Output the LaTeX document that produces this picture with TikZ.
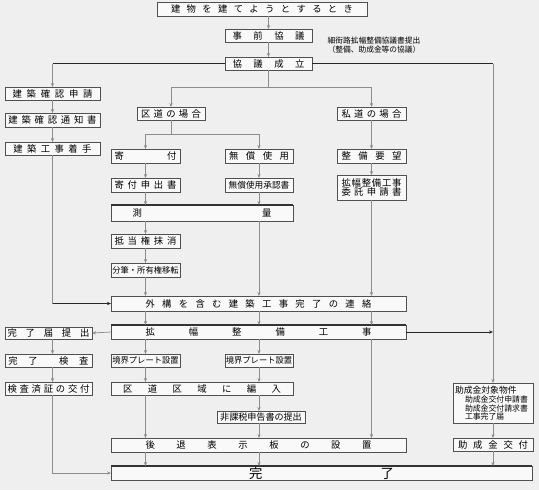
\documentclass[tikz,border=0pt]{standalone}
\usepackage{fontspec}
\setmainfont{Noto Sans CJK JP}
\usetikzlibrary{arrows.meta}
\definecolor{bg}{HTML}{EFEFEF}
\definecolor{boxfill}{HTML}{F9F9F9}
\definecolor{boxline}{HTML}{505050}
\definecolor{lnc}{HTML}{8C8C8C}
\newdimen\pxu \pxu=0.75pt
\makeatletter
\def\spr@loop#1{\ifx#1\@nil\else\hfill#1\expandafter\spr@loop\fi}
\def\spr@start#1{#1\spr@loop}
\newcommand\sprd[2]{\hbox to #1\pxu{\spr@start#2\@nil}}
\makeatother
\newcommand\bx[7][]{\node[box,minimum width={(#5-#3)*0.75pt},minimum height={(#6-#4)*0.75pt},#1] (#2) at ({(#3+#5)/2},{(#4+#6)/2}) {#7};}
\tikzset{
  box/.style={draw=boxline,fill=boxfill,line width=0.5pt,inner sep=0pt,outer sep=0pt,rectangle},
  lnk/.style={draw=lnc,line width=0.55pt},
  arr/.style={lnk,-{Stealth[length=3pt,width=2.4pt]}},
  blk/.style={draw=black!85,line width=0.65pt},
  blkarr/.style={blk,-{Stealth[length=3pt,width=2.4pt]}},
  topbar/.style={draw=black!80,line width=1pt},
  small/.style={font=\fontsize{6.2}{7}\selectfont}
}
\begin{document}
\begin{tikzpicture}[x=0.75pt,y=-0.75pt,font=\fontsize{7}{8}\selectfont]
\useasboundingbox[fill=bg] (0,0) rectangle (539,490);
% nodes
\bx{top}{157}{2}{367}{16}{\sprd{182}{建物を建てようとするとき}}
\bx{jizen}{225}{29}{312}{42}{\sprd{72}{事前協議}}
\node[font=\fontsize{5.8}{7}\selectfont,align=center] (note) at (374,45) {細街路拡幅整備協議書提出\\（整備、助成金等の協議）};
\bx{kyogi}{225}{57}{312}{70}{\sprd{72}{協議成立}}
\bx{kakunin}{5}{87}{100}{100}{\sprd{80}{建築確認申請}}
\bx{tsuchi}{5}{113}{100}{127}{\sprd{88}{建築確認通知書}}
\bx{chakushu}{5}{142}{100}{155}{\sprd{78}{建築工事着手}}
\bx{kudo}{137}{107}{205}{120}{\sprd{60}{区道の場合}}
\bx{shido}{337}{107}{406}{120}{\sprd{60}{私道の場合}}
\bx{kifu}{111}{149}{180}{163}{\sprd{62}{寄付}}
\bx{musho}{225}{149}{293}{163}{\sprd{60}{無償使用}}
\bx{seibi}{337}{149}{406}{163}{\sprd{60}{整備要望}}
\bx{kifumo}{111}{178}{180}{192}{\sprd{62}{寄付申出書}}
\bx{mushosho}{225}{178}{293}{192}{\fontsize{6.5}{7}\selectfont 無償使用承認書}
\bx[align=center]{itaku}{337}{175}{406}{200}{\sprd{60}{拡幅整備工事}\\[-1pt]\sprd{60}{委託申請書}}
\bx{sokuryo}{111}{205}{293}{221}{\sprd{139}{測量}}
\bx{teito}{111}{234}{180}{248}{\sprd{62}{抵当権抹消}}
\bx{bunpitsu}{111}{263}{180}{277}{\fontsize{6.2}{7}\selectfont 分筆・所有権移転}
\bx{gaiko}{111}{296}{406}{311}{\sprd{226}{外構を含む建築工事完了の連絡}}
\bx{kakufuku}{111}{325}{406}{339}{\sprd{226}{拡幅整備工事}}
\bx{todoke}{5}{327}{92}{339}{\sprd{82}{完了届提出}}
\bx{kensa}{5}{354}{92}{367}{\hbox to 80\pxu{完\hfill 了\hfill\hfill 検\hfill 査}}
\bx{kensazumi}{5}{382}{92}{395}{\sprd{82}{検査済証の交付}}
\bx{plate1}{111}{354}{180}{367}{\fontsize{6.2}{7}\selectfont 境界プレート設置}
\bx{plate2}{225}{354}{293}{367}{\fontsize{6.2}{7}\selectfont 境界プレート設置}
\bx{hennyu}{111}{382}{293}{395}{\sprd{158}{区道区域に編入}}
\bx{hikazei}{217}{411}{305}{423}{\fontsize{6.8}{7}\selectfont 非課税申告書の提出}
\bx{kotai}{111}{438}{406}{452}{\sprd{226}{後退表示板の設置}}
\bx{kanryo}{111}{466}{532}{480}{\hbox to 145\pxu{\fontsize{10}{12}\selectfont 完\hfill 了}}
\bx{josei}{453}{383}{533}{423}{\parbox{76\pxu}{\fontsize{6.6}{7.4}\selectfont 助成金対象物件\\[0.5pt]\fontsize{5.9}{6.5}\selectfont\hspace*{10\pxu}助成金交付申請書\\\hspace*{10\pxu}助成金交付請求書\\\hspace*{10\pxu}工事完了届}}
\bx{koufu}{453}{438}{533}{451}{\sprd{70}{助成金交付}}
% thick top edges
\foreach \n in {sokuryo,kakufuku,kanryo} \draw[topbar] (\n.north west) -- (\n.north east);
% connectors
\coordinate (b1) at (0,87);
\coordinate (b2) at (0,134);
\draw[arr] (top.south -| jizen.north) -- (jizen.north);
\draw[arr] (jizen) -- (kyogi);
\draw[blk] (kyogi.west) -- (kyogi.west -| kakunin.north);
\draw[arr] (kyogi.west -| kakunin.north) -- (kakunin.north);
\draw[blk] (kyogi.east) -- (kyogi.east -| josei.north);
\draw[arr] (kyogi.east -| josei.north) -- (josei.north);
\draw[lnk] (kyogi.south) -- (kyogi.south |- b1);
\draw[lnk] (kudo.north |- b1) -- (shido.north |- b1);
\draw[arr] (kudo.north |- b1) -- (kudo.north);
\draw[arr] (shido.north |- b1) -- (shido.north);
\draw[lnk] (kudo.south) -- (kudo.south |- b2);
\draw[lnk] (kifu.north |- b2) -- (musho.north |- b2);
\draw[arr] (kifu.north |- b2) -- (kifu.north);
\draw[arr] (musho.north |- b2) -- (musho.north);
\draw[arr] (shido) -- (seibi);
\draw[arr] (kakunin) -- (tsuchi);
\draw[arr] (tsuchi) -- (chakushu);
\draw[lnk] (chakushu.south) -- (chakushu.south |- gaiko.west);
\draw[blkarr] (chakushu.south |- gaiko.west) -- (gaiko.west);
\draw[arr] (kifu) -- (kifumo);
\draw[arr] (kifumo.south) -- (kifumo.south |- sokuryo.north);
\draw[arr] (musho) -- (mushosho);
\draw[arr] (mushosho.south) -- (mushosho.south |- sokuryo.north);
\draw[arr] (sokuryo.south -| teito) -- (teito.north);
\draw[arr] (teito) -- (bunpitsu);
\draw[arr] (bunpitsu.south) -- (bunpitsu.south |- gaiko.north);
\draw[arr] (sokuryo.south -| musho) -- (gaiko.north -| musho);
\draw[arr] (seibi) -- (itaku);
\draw[arr] (itaku.south) -- (itaku.south |- gaiko.north);
\foreach \c in {kifu,musho,seibi} \draw[arr] (gaiko.south -| \c) -- (kakufuku.north -| \c);
\draw[arr] (kakufuku.west) -- (todoke.east);
\draw[blkarr] (kakufuku.east) -- (kakufuku.east -| josei.north);
\draw[arr] (todoke.south -| chakushu) -- (kensa.north -| chakushu);
\draw[arr] (kensa.south -| chakushu) -- (kensazumi.north -| chakushu);
\draw[arr] (kensazumi.south -| chakushu) |- (kanryo.west);
\draw[arr] (kakufuku.south -| kifu) -- (plate1.north);
\draw[arr] (kakufuku.south -| musho) -- (plate2.north);
\draw[arr] (plate1.south) -- (plate1.south |- hennyu.north);
\draw[arr] (plate2.south) -- (plate2.south |- hennyu.north);
\draw[arr] (hennyu.south -| kifu) -- (kotai.north -| kifu);
\draw[arr] (hennyu.south -| musho) -- (hikazei.north -| musho);
\draw[arr] (hikazei.south -| musho) -- (kotai.north -| musho);
\draw[arr] (kakufuku.south -| seibi) -- (kotai.north -| seibi);
\draw[arr] (kotai.south -| kifu) -- (kanryo.north -| kifu);
\draw[arr] (kotai.south -| musho) -- (kanryo.north -| musho);
\draw[arr] (josei) -- (koufu);
\draw[arr] (koufu.south) -- (kanryo.north -| koufu);
\end{tikzpicture}
\end{document}
